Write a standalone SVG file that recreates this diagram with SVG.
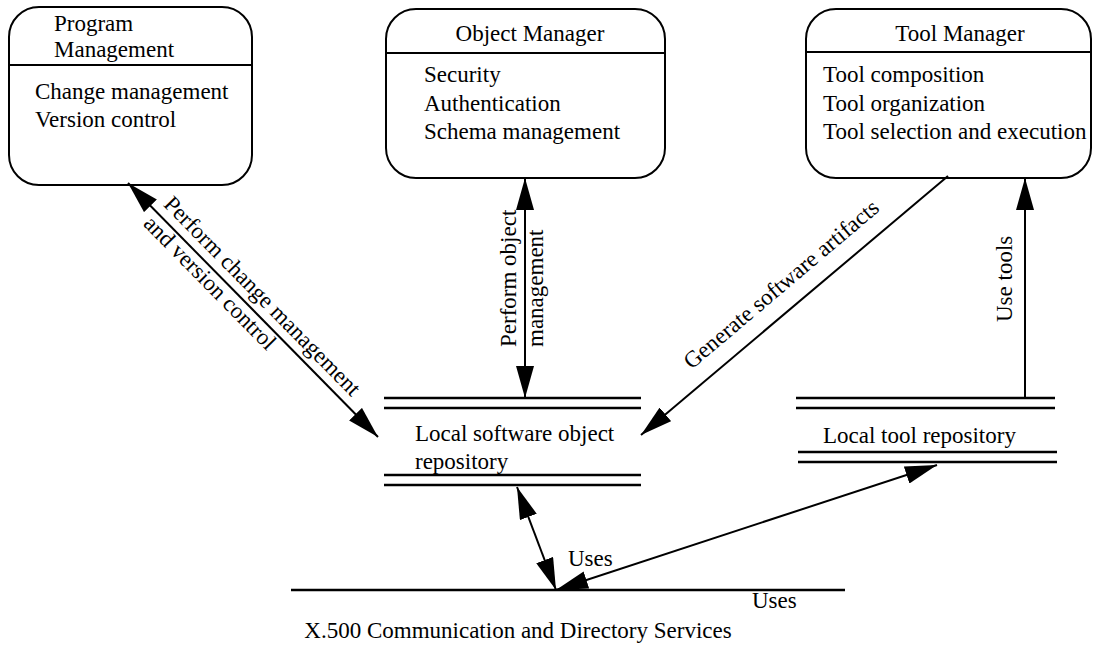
<svg xmlns="http://www.w3.org/2000/svg" width="1093" height="650" viewBox="0 0 1093 650">
<style>
text{font-family:"Liberation Serif","Times New Roman",serif;font-size:23px;fill:#000}
.box{fill:#fff;stroke:#000;stroke-width:2}
.div{stroke:#000;stroke-width:2}
.rep{stroke:#000;stroke-width:2.5}
.c{stroke:#000;stroke-width:2;fill:none}
.mid{text-anchor:middle}
</style>
<defs>
<marker id="ah" viewBox="0 0 32 18" refX="32" refY="9" markerWidth="32" markerHeight="18" markerUnits="userSpaceOnUse" orient="auto-start-reverse">
<path d="M0,0 L32,9 L0,18 z" fill="#000"/>
</marker>
</defs>
<rect width="1093" height="650" fill="#fff"/>

<g id="program-management">
<rect class="box" x="9" y="7" width="243" height="178" rx="30" ry="30"/>
<line class="div" x1="8" y1="65" x2="252" y2="65"/>
<text x="54" y="31">Program</text>
<text x="54" y="57">Management</text>
<text x="35" y="99">Change management</text>
<text x="35" y="127">Version control</text>
</g>

<g id="object-manager">
<rect class="box" x="386" y="9" width="279" height="169" rx="30" ry="30"/>
<line class="div" x1="385" y1="53" x2="665" y2="53"/>
<text class="mid" x="530" y="41">Object Manager</text>
<text x="424" y="82">Security</text>
<text x="424" y="111">Authentication</text>
<text x="424" y="139">Schema management</text>
</g>

<g id="tool-manager">
<rect class="box" x="806" y="9" width="285" height="169" rx="30" ry="30"/>
<line class="div" x1="806" y1="52" x2="1091" y2="52"/>
<text class="mid" x="960" y="41">Tool Manager</text>
<text x="823" y="82">Tool composition</text>
<text x="823" y="111">Tool organization</text>
<text x="823" y="139">Tool selection and execution</text>
</g>

<g id="local-software-object-repository">
<line class="rep" x1="384" y1="398" x2="641" y2="398"/>
<line class="rep" x1="384" y1="408" x2="641" y2="408"/>
<text x="415" y="441">Local software object</text>
<text x="415" y="469">repository</text>
<line class="rep" x1="384" y1="475" x2="641" y2="475"/>
<line class="rep" x1="384" y1="485" x2="641" y2="485"/>
</g>

<g id="local-tool-repository">
<line class="rep" x1="796" y1="398" x2="1055" y2="398"/>
<line class="rep" x1="796" y1="408" x2="1055" y2="408"/>
<text x="823" y="443">Local tool repository</text>
<line class="rep" x1="798" y1="452" x2="1057" y2="452"/>
<line class="rep" x1="798" y1="462" x2="1057" y2="462"/>
</g>

<g id="x500-services">
<line class="rep" x1="291" y1="590" x2="845" y2="590"/>
<text class="mid" x="518" y="638">X.500 Communication and Directory Services</text>
</g>

<g id="connectors">
<line class="c" x1="128" y1="183" x2="378" y2="437" marker-start="url(#ah)" marker-end="url(#ah)"/>
<g transform="translate(156,211.5) rotate(45.45)">
<text x="0" y="-9">Perform change management</text>
<text x="0" y="19">and version control</text>
</g>

<line class="c" x1="525" y1="178" x2="525" y2="398" marker-start="url(#ah)" marker-end="url(#ah)"/>
<text transform="translate(516,347) rotate(-90)">Perform object</text>
<text transform="translate(543,347) rotate(-90)">management</text>

<line class="c" x1="948" y1="176" x2="641" y2="435" marker-end="url(#ah)"/>
<text class="mid" transform="translate(786,290) rotate(-40.2)">Generate software artifacts</text>

<line class="c" x1="1025" y1="398" x2="1025" y2="178" marker-end="url(#ah)"/>
<text transform="translate(1012,322) rotate(-90)">Use tools</text>

<line class="c" x1="517" y1="487" x2="556" y2="590" marker-start="url(#ah)" marker-end="url(#ah)"/>
<text x="568" y="566">Uses</text>

<line class="c" x1="556" y1="590" x2="937" y2="465" marker-start="url(#ah)" marker-end="url(#ah)"/>
<text x="752" y="608">Uses</text>
</g>
</svg>
